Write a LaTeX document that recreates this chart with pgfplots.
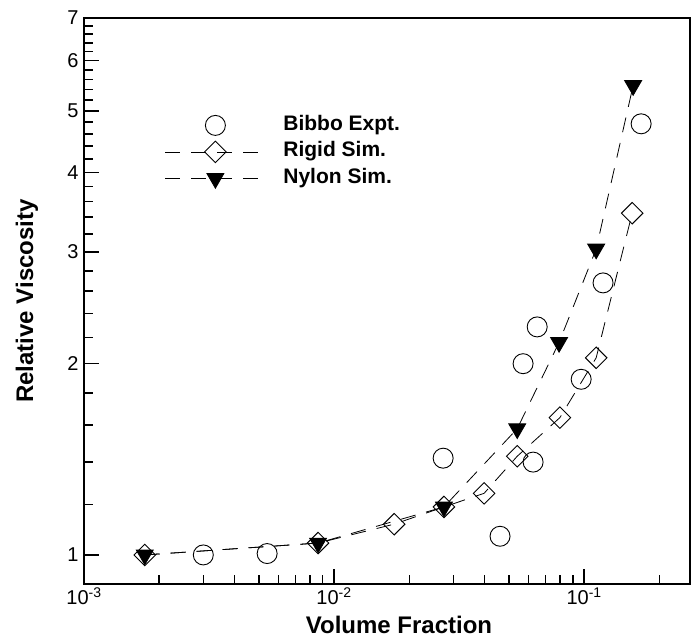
\documentclass[border=0pt]{standalone}
\usepackage{fontspec}
\setmainfont{Liberation Sans}
\usepackage{pgfplots}
\pgfplotsset{compat=1.18}
\begin{document}
\begin{tikzpicture}
\useasboundingbox (-84pt,-54pt) rectangle (608pt,584pt);
\begin{axis}[
  at={(0pt,0pt)}, anchor=south west,
  scale only axis, width=606pt, height=566pt,
  xmode=log, ymode=log,
  xmin=1e-3, xmax=0.265, ymin=0.9, ymax=7,
  axis line style={line width=1.8pt},
  xtick={0.001,0.01,0.1},
  xticklabels={10\textsuperscript{-3},10\textsuperscript{-2},10\textsuperscript{-1}},
  minor xtick={0.002,0.003,0.004,0.005,0.006,0.007,0.008,0.009,
               0.02,0.03,0.04,0.05,0.06,0.07,0.08,0.09,0.2},
  ytick={1,2,3,4,5,6,7}, yticklabels={1,2,3,4,5,6,7},
  minor ytick={1.2,1.4,1.6,1.8,2.2,2.4,2.6,2.8,3.2,3.4,3.6,3.8,
               4.2,4.4,4.6,4.8,5.2,5.4,5.6,5.8,6.2,6.4,6.6,6.8},
  xtick pos=bottom, ytick pos=left, tick align=inside,
  major tick length=15pt, minor tick length=9pt,
  tick style={black, line width=1.6pt},
  tick label style={font=\fontsize{20}{24}\selectfont},
  yticklabel style={xshift=-2pt},
  xlabel={Volume Fraction}, ylabel={Relative Viscosity},
  every axis x label/.style={at={([xshift=12pt,yshift=-41pt]rel axis cs:0.5,0)}, anchor=center,
    font=\bfseries\fontsize{24}{29}\selectfont},
  every axis y label/.style={at={([xshift=-57pt]rel axis cs:0,0.5)}, rotate=90, anchor=center,
    font=\bfseries\fontsize{24}{29}\selectfont},
  legend style={at={(rel axis cs:0.134,0.834)}, anchor=north west, draw=none, fill=none,
    inner sep=0pt, column sep=15pt,
    font=\bfseries\fontsize{21}{25}\selectfont,
    nodes={text height=14pt, text depth=4pt, inner ysep=4.25pt, inner xsep=3pt}},
  legend cell align=left,
  legend image code/.code={%
    \pgfinterruptboundingbox
    \draw[mark repeat=2,mark phase=2,#1] plot coordinates {(0pt,0pt)(50pt,0pt)(100pt,0pt)};
    \endpgfinterruptboundingbox
    \pgfpathrectangle{\pgfpoint{0pt}{-5pt}}{\pgfpoint{100pt}{10pt}}%
    \pgfusepath{use as bounding box}},
]
\addplot[only marks, mark=o, mark size=10pt, mark options={line width=0.9pt}] coordinates {
(0.0030,1.00) (0.0054,1.005) (0.0273,1.42) (0.0461,1.07) (0.057,2.00)
(0.0625,1.40) (0.0649,2.285) (0.0973,1.89) (0.119,2.68) (0.169,4.77)};
\addlegendentry{Bibbo Expt.}
\addplot[black, line width=0.8pt, dash pattern=on 15pt off 11pt,
  mark=square, mark size=7.6pt, mark options={solid, rotate=45, line width=0.9pt}] coordinates {
(0.00175,1.00) (0.00863,1.044) (0.0174,1.118) (0.0275,1.19) (0.0398,1.25)
(0.054,1.43) (0.080,1.645) (0.1117,2.043) (0.1556,3.45)};
\addlegendentry{Rigid Sim.}
\addplot[black, line width=0.8pt, dash pattern=on 15pt off 11pt,
  mark=triangle*, mark size=9.8pt, mark options={solid, rotate=180, fill=black}] coordinates {
(0.00175,1.00) (0.00863,1.044) (0.0275,1.19) (0.054,1.58) (0.0794,2.16)
(0.1117,3.03) (0.157,5.48)};
\addlegendentry{Nylon Sim.}
\end{axis}
\end{tikzpicture}
\end{document}
